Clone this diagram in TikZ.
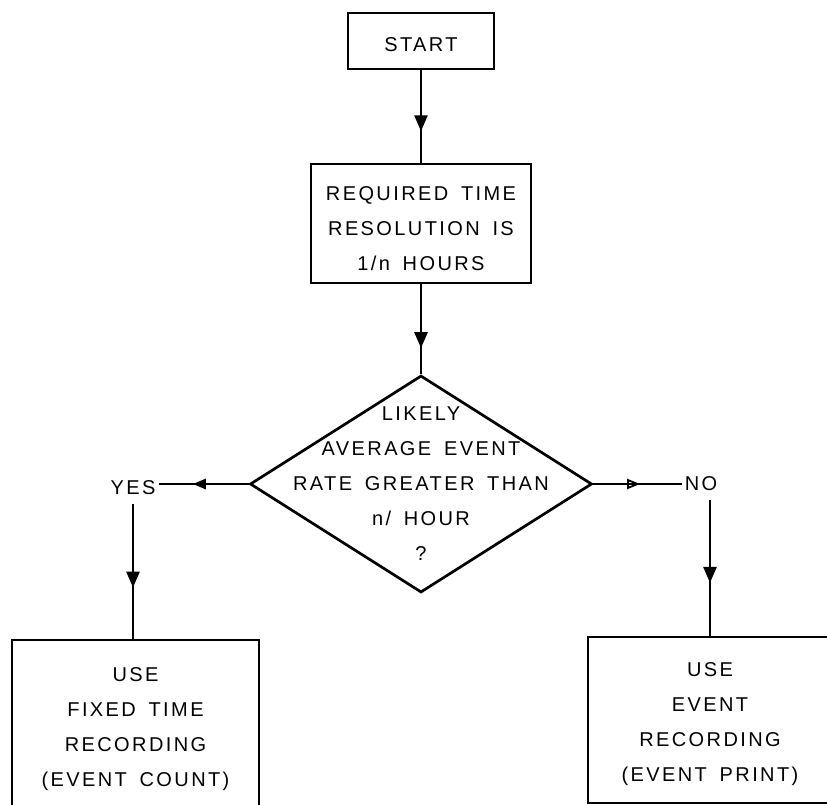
\documentclass[tikz,border=0pt]{standalone}
\usepackage{fontspec}
\newfontfamily\lett{Liberation Sans}[LetterSpace=12,WordSpace=1.6]
\usetikzlibrary{arrows.meta,shapes.geometric,decorations.markings}
\begin{document}
\begin{tikzpicture}[x=1pt,y=-1pt,
  lw/.style={line width=2.7pt},
  box/.style={draw, lw, rectangle, inner sep=0pt},
  dia/.style={draw, lw, diamond, inner sep=0pt, minimum width=342pt, minimum height=217pt},
  lbl/.style={font=\lett\fontsize{20pt}{35pt}\selectfont, align=center, inner sep=0pt},
  tag/.style={font=\lett\fontsize{20pt}{35pt}\selectfont, inner xsep=3pt, inner ysep=9pt},
  conn/.style={lw, postaction=decorate, decoration={markings, mark=at position #1 with {\arrow{Triangle[length=16pt,width=13pt]}}}},
  hconn/.style={lw, postaction=decorate, decoration={markings, mark=at position #1 with {\arrow{Triangle[length=13pt,width=10pt]}}}},
  oconn/.style={lw, postaction=decorate, decoration={markings, mark=at position #1 with {\arrow{Triangle[open,length=13pt,width=10pt,line width=1.8pt]}}}}
]
\clip (0,0) rectangle (827,805);

\node[box, minimum width=146pt, minimum height=56pt,
  label={[lbl,yshift=-4pt]center:START}] (start) at (421,41) {};
\node[box, minimum width=220pt, minimum height=119pt,
  label={[lbl,yshift=-5pt]center:REQUIRED TIME\\RESOLUTION IS\\1/n HOURS}] (req) at (421,223.5) {};
\node[dia, label={[lbl]center:LIKELY\\AVERAGE EVENT\\RATE GREATER THAN\\n/ HOUR\\?}] (dec) at (421,484) {};
\node[tag] (yes) at (133,488) {YES};
\node[tag] (no) at (701,484) {NO};
\node[box, minimum width=247pt, minimum height=179pt,
  label={[lbl]center:USE\\FIXED TIME\\RECORDING\\(EVENT COUNT)}] (fixed) at (135.5,729.5) {};
\node[box, minimum width=244pt, minimum height=166pt,
  label={[lbl,yshift=-4pt]center:USE\\EVENT\\RECORDING\\(EVENT PRINT)}] (event) at (710,720) {};

\draw[conn=0.66] (start.south) -- (req.north);
\draw[conn=0.71] (req.south) -- (dec.north);
\draw[hconn=0.62] (dec.west) -- (dec.west -| yes.east);
\draw[oconn=0.53] (dec.east) -- (dec.east -| no.west);
\draw[conn=0.62] (yes.south) -- (yes.south |- fixed.north);
\draw[conn=0.61] (no.south -| event.north) -- (event.north);
\end{tikzpicture}
\end{document}
